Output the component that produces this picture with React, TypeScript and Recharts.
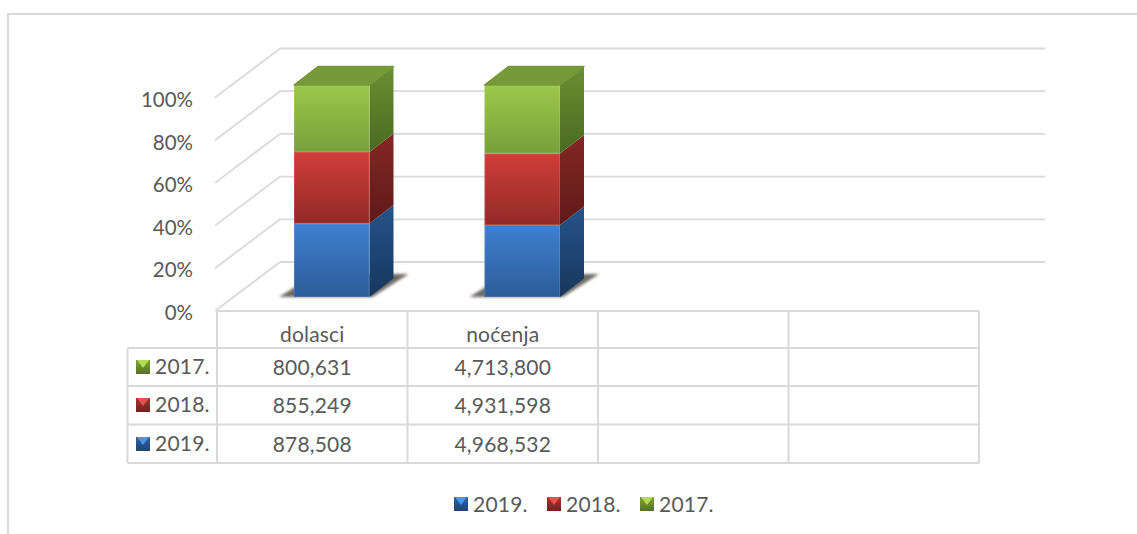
import { BarChart, Bar, XAxis, YAxis, Legend } from 'recharts'

const categories = ['dolasci', 'noćenja', '', '']
const values2019 = [878508, 4968532, null, null]
const values2018 = [855249, 4931598, null, null]
const values2017 = [800631, 4713800, null, null]
const percentTicks = [0, 0.2, 0.4, 0.6, 0.8, 1]

const rows = [
  { name: '2017.', values: values2017, tone: 'green' },
  { name: '2018.', values: values2018, tone: 'red' },
  { name: '2019.', values: values2019, tone: 'blue' },
]

const data = categories.map((category, i) => ({
  category,
  y2019: values2019[i],
  y2018: values2018[i],
  y2017: values2017[i],
}))

const TEXT = '#595959'
const LINE = '#d9d9d9'
const FONT = 'Lato, sans-serif'
const FONT_SIZE = 21

const tones: Record<string, any> = {
  blue: { front: ['#3f80d0', '#2c5c98'], side: ['#25548a', '#17365c'], key: ['#4f94e0', '#2f639f', '#1f4474'] },
  red: { front: ['#d03e39', '#922a27'], side: ['#842725', '#5e1a18'], key: ['#e8524c', '#a83230', '#73201e'] },
  green: { front: ['#9cc84b', '#76a03a'], side: ['#6b8f32', '#4a6a20'], key: ['#b2dc58', '#7fa63c', '#566f28'] },
}

// layout of the fake-3D box around the plot
const PLOT_TOP = 85
const PLOT_H = 212
const DEPTH_X = 24
const DEPTH_Y = 18.5
const colX = [217, 407.5, 598, 788.5, 979]
const rowY = [311, 348, 386, 424.5, 463]

function Defs() {
  return (
    <defs>
      {Object.keys(tones).map((t) => (
        <g key={t}>
          <linearGradient id={`front-${t}`} x1="0" y1="0" x2="0" y2="1">
            <stop offset="0%" stopColor={tones[t].front[0]} />
            <stop offset="100%" stopColor={tones[t].front[1]} />
          </linearGradient>
          <linearGradient id={`side-${t}`} x1="0" y1="0" x2="0" y2="1">
            <stop offset="0%" stopColor={tones[t].side[0]} />
            <stop offset="100%" stopColor={tones[t].side[1]} />
          </linearGradient>
          <linearGradient id={`key-${t}`} x1="0" y1="0" x2="0" y2="1">
            <stop offset="0%" stopColor={tones[t].key[1]} />
            <stop offset="100%" stopColor={tones[t].key[2]} />
          </linearGradient>
        </g>
      ))}
      <filter id="shadow-blur" x="-20%" y="-20%" width="140%" height="140%">
        <feGaussianBlur stdDeviation="1.6" />
      </filter>
    </defs>
  )
}

function Walls() {
  return (
    <g stroke={LINE} strokeWidth={1.8} fill="none">
      {percentTicks.map((t) => {
        const backY = PLOT_TOP - 36.5 + (1 - t) * 213.5
        const frontY = backY + 49
        return (
          <g key={t}>
            <line x1={280} y1={backY} x2={1045} y2={backY} />
            <line x1={215} y1={frontY} x2={280} y2={backY} />
          </g>
        )
      })}
    </g>
  )
}

function Box3D(props: any) {
  const { x, y, width, height, tone, isTop, isBottom } = props
  if (!height || !isFinite(height)) return null
  const r = x + width
  const b = y + height
  return (
    <g>
      {isBottom && (
        <polygon
          points={`${x - 15},${b} ${r + 3},${b} ${r + 39},${b - 23} ${x + 22},${b - 23}`}
          fill="#4a4540"
          opacity={0.8}
          filter="url(#shadow-blur)"
        />
      )}
      <polygon
        points={`${r},${y} ${r + DEPTH_X},${y - DEPTH_Y} ${r + DEPTH_X},${b - DEPTH_Y} ${r},${b}`}
        fill={`url(#side-${tone})`}
      />
      <rect x={x} y={y} width={width} height={height} fill={`url(#front-${tone})`} />
      <rect x={x + 0.5} y={y + 0.5} width={width - 1} height={height - 1} fill="none" stroke="#fff" strokeOpacity={0.12} />
      {isTop && (
        <polygon
          points={`${x},${y} ${x + DEPTH_X},${y - DEPTH_Y} ${r + DEPTH_X},${y - DEPTH_Y} ${r},${y}`}
          fill="#76993a"
          stroke="#76993a"
          strokeWidth={1.5}
          strokeLinejoin="round"
        />
      )}
    </g>
  )
}

function KeyIcon({ tone }: { tone: string }) {
  const k = tones[tone].key
  return (
    <svg width={14} height={14} style={{ display: 'block' }}>
      <rect width={14} height={14} fill={`url(#key-${tone})`} />
      <polygon points="1,0 13,0 7,8" fill={k[0]} />
    </svg>
  )
}

function DataTable() {
  const textProps = { fontFamily: FONT, fontSize: FONT_SIZE, letterSpacing: 0.2, fill: TEXT, textAnchor: 'middle' as const }
  return (
    <g>
      <g stroke={LINE} strokeWidth={2}>
        <line x1={colX[0]} y1={rowY[0]} x2={colX[4]} y2={rowY[0]} />
        {rowY.slice(1).map((y) => (
          <line key={y} x1={127.5} y1={y} x2={colX[4]} y2={y} />
        ))}
        {colX.map((x) => (
          <line key={x} x1={x} y1={rowY[0]} x2={x} y2={rowY[4]} />
        ))}
        <line x1={127.5} y1={rowY[1]} x2={127.5} y2={rowY[4]} />
      </g>
      {categories.map((c, i) => (
        <text key={i} x={(colX[i] + colX[i + 1]) / 2} y={rowY[0] + 30.5} {...textProps}>
          {c}
        </text>
      ))}
      {rows.map((row, r) => (
        <g key={row.name}>
          <text x={155} y={rowY[r + 1] + 26} {...textProps} textAnchor="start">
            {row.name}
          </text>
          {row.values.map((v, i) =>
            v == null ? null : (
              <text key={i} x={(colX[i] + colX[i + 1]) / 2} y={rowY[r + 1] + 27} {...textProps}>
                {v.toLocaleString('en-US')}
              </text>
            ),
          )}
        </g>
      ))}
    </g>
  )
}

function TableKeys() {
  return (
    <>
      {rows.map((row, r) => (
        <div key={row.name} style={{ position: 'absolute', left: 136, top: rowY[r + 1] + 12 }}>
          <KeyIcon tone={row.tone} />
        </div>
      ))}
    </>
  )
}

function toneFor(name: string) {
  return rows.find((r) => r.name === name)?.tone ?? 'blue'
}

function LegendRow({ payload }: any) {
  return (
    <div style={{ display: 'flex', fontFamily: FONT, fontSize: FONT_SIZE, letterSpacing: 0.2, color: TEXT, lineHeight: '22px' }}>
      {(payload || []).map((item: any) => (
        <div key={item.value} style={{ display: 'flex', alignItems: 'center', width: 93 }}>
          <KeyIcon tone={toneFor(item.value)} />
          <span style={{ marginLeft: 5 }}>{item.value}</span>
        </div>
      ))}
    </div>
  )
}

function PercentTick({ y, payload }: any) {
  return (
    <text x={193} y={y + 22 + (1 - payload.value)} textAnchor="end" fontFamily={FONT} fontSize={20.5} fill={TEXT}>
      {Math.round(payload.value * 100)}%
    </text>
  )
}

export default function App() {
  return (
    <div style={{ position: 'fixed', left: 0, top: 0, width: 1137, height: 534, overflow: 'hidden', background: '#fff' }}>
      <div style={{ position: 'absolute', left: 7, top: 13, right: 0, bottom: 0, borderLeft: `2px solid ${LINE}`, borderTop: `2px solid ${LINE}` }} />
      <div style={{ position: 'absolute', left: 0, top: 0 }}>
        <BarChart
          width={1137}
          height={534}
          data={data}
          stackOffset="expand"
          margin={{ top: PLOT_TOP, bottom: 534 - PLOT_TOP - PLOT_H, left: 193, right: 139 }}
          barSize={75.5}
        >
          <Defs />
          <Walls />
          <DataTable />
          <XAxis dataKey="category" hide />
          <YAxis width={43} domain={[0, 1]} ticks={percentTicks} axisLine={false} tickLine={false} tick={<PercentTick />} />
          <Legend
            layout="horizontal"
            verticalAlign="middle"
            itemSorter={null}
            content={<LegendRow />}
            wrapperStyle={{ left: 454, top: 493, width: 300 }}
          />
          <Bar dataKey="y2019" name="2019." stackId="a" fill="#3f80d0" isAnimationActive={false}
            shape={(p: any) => <Box3D {...p} tone="blue" isBottom />} />
          <Bar dataKey="y2018" name="2018." stackId="a" fill="#d03e39" isAnimationActive={false}
            shape={(p: any) => <Box3D {...p} tone="red" />} />
          <Bar dataKey="y2017" name="2017." stackId="a" fill="#9cc84b" isAnimationActive={false}
            shape={(p: any) => <Box3D {...p} tone="green" isTop />} />
        </BarChart>
      </div>
      <TableKeys />
    </div>
  )
}
